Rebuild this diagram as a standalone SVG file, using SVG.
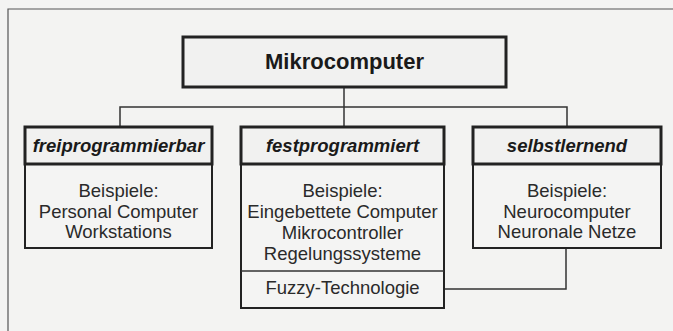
<svg xmlns="http://www.w3.org/2000/svg" width="673" height="331" viewBox="0 0 673 331">
<style>
.bg{fill:#f3f3f2}
.frame{stroke:#555;stroke-width:1.2;fill:none}
.thick{fill:#f1f1f0;stroke:#222;stroke-width:3}
.body{fill:#f4f4f3;stroke:#222;stroke-width:2}
.conn{stroke:#333;stroke-width:1.5;fill:none}
.title{font-family:"Liberation Sans",Arial,sans-serif;font-weight:bold;font-size:22px;fill:#1a1a1a;text-anchor:middle}
.head{font-family:"Liberation Sans",Arial,sans-serif;font-weight:bold;font-style:italic;font-size:18.5px;fill:#1a1a1a;text-anchor:middle}
.txt{font-family:"Liberation Sans",Arial,sans-serif;font-size:18.5px;fill:#2a2a2a;text-anchor:middle}
</style>
<rect class="bg" x="0" y="0" width="673" height="331"/>
<path class="frame" d="M8 331 V9 H673"/>
<g id="connectors">
<path class="conn" d="M344 87 V126"/>
<path class="conn" d="M120 126 V107 H567 V126"/>
<path class="conn" d="M444 289 H566 V248"/>
</g>
<g id="mikrocomputer">
<rect class="thick" x="183" y="37" width="323" height="50"/>
<text class="title" x="344.5" y="69">Mikrocomputer</text>
</g>
<g id="freiprogrammierbar">
<rect class="body" x="25" y="164" width="187" height="84"/>
<rect class="thick" x="25" y="127" width="187" height="37"/>
<text class="head" x="118.5" y="152">freiprogrammierbar</text>
<text class="txt" x="118.5" y="197">Beispiele:</text>
<text class="txt" x="118.5" y="218">Personal Computer</text>
<text class="txt" x="118.5" y="238">Workstations</text>
</g>
<g id="festprogrammiert">
<rect class="body" x="241" y="164" width="203" height="144"/>
<line class="conn" x1="241" y1="271" x2="444" y2="271"/>
<rect class="thick" x="241" y="127" width="203" height="37"/>
<text class="head" x="342.5" y="152">festprogrammiert</text>
<text class="txt" x="342.5" y="197">Beispiele:</text>
<text class="txt" x="342.5" y="218">Eingebettete Computer</text>
<text class="txt" x="342.5" y="239">Mikrocontroller</text>
<text class="txt" x="342.5" y="260">Regelungssysteme</text>
<text class="txt" x="342.5" y="294">Fuzzy-Technologie</text>
</g>
<g id="selbstlernend">
<rect class="body" x="473" y="164" width="188" height="84"/>
<rect class="thick" x="473" y="127" width="188" height="37"/>
<text class="head" x="567" y="152">selbstlernend</text>
<text class="txt" x="567" y="197">Beispiele:</text>
<text class="txt" x="567" y="218">Neurocomputer</text>
<text class="txt" x="567" y="238">Neuronale Netze</text>
</g>
</svg>
